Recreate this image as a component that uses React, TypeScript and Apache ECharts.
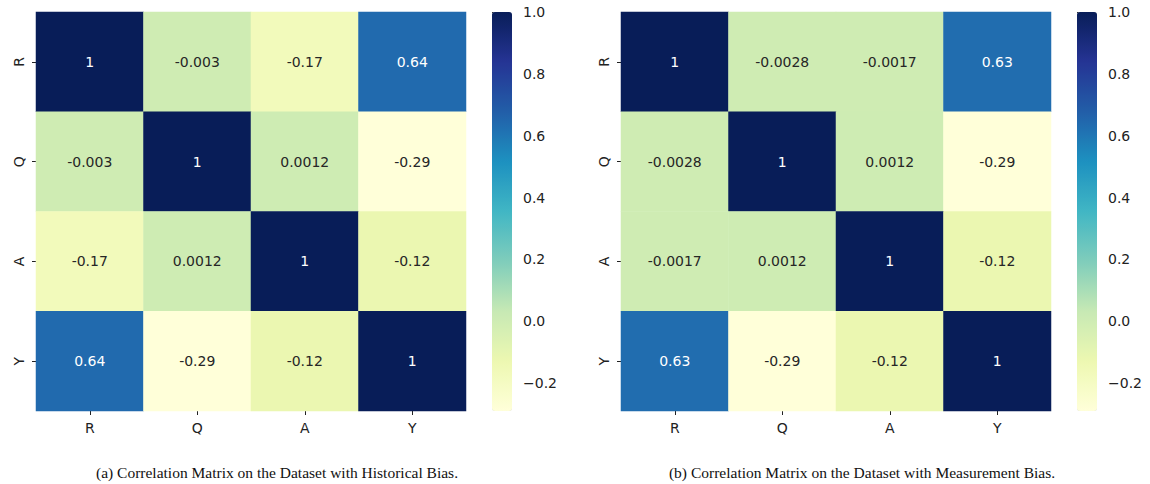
import React, { useEffect, useRef } from "react";
import * as echarts from "echarts";

const labels = ["R", "Q", "A", "Y"];
const histR = [1, -0.003, -0.17, 0.64];
const histQ = [-0.003, 1, 0.0012, -0.29];
const histA = [-0.17, 0.0012, 1, -0.12];
const histY = [0.64, -0.29, -0.12, 1];
const measR = [1, -0.0028, -0.0017, 0.63];
const measQ = [-0.0028, 1, 0.0012, -0.29];
const measA = [-0.0017, 0.0012, 1, -0.12];
const measY = [0.63, -0.29, -0.12, 1];
const colorbarTicks = [-0.2, 0, 0.2, 0.4, 0.6, 0.8, 1.0];
const vMin = -0.29;
const vMax = 1.0;
const captionA = "(a) Correlation Matrix on the Dataset with Historical Bias.";
const captionB = "(b) Correlation Matrix on the Dataset with Measurement Bias.";

const YlGnBu = ["#ffffd9", "#edf8b1", "#c7e9b4", "#7fcdbb", "#41b6c4", "#1d91c0", "#225ea8", "#253494", "#081d58"];
const FONT = "DejaVu Sans";
const TXT = "#222222";

function buildData(rows: number[][]) {
  const out: any[] = [];
  rows.forEach((row, yi) => {
    row.forEach((v, xi) => {
      const norm = (v - vMin) / (vMax - vMin);
      out.push({
        value: [xi, yi, v],
        label: { color: norm > 0.6 ? "#ffffff" : "#262626" },
      });
    });
  });
  return out;
}

function fmt(v: number) {
  return String(Number(v.toPrecision(2)));
}

export default function App() {
  const ref = useRef<HTMLDivElement>(null);
  useEffect(() => {
    const chart = echarts.init(ref.current!, undefined, { renderer: "svg" });
    const panels = [
      { gridLeft: 36, cbLeft: 492, rows: [histR, histQ, histA, histY], caption: captionA, cx: 277 },
      { gridLeft: 621, cbLeft: 1077, rows: [measR, measQ, measA, measY], caption: captionB, cx: 862 },
    ];
    const top = 12;
    const h = 399;
    const grids: any[] = [];
    const xAxes: any[] = [];
    const yAxes: any[] = [];
    const series: any[] = [];
    const visualMaps: any[] = [];
    const graphics: any[] = [];
    panels.forEach((p, i) => {
      grids.push({ left: p.gridLeft, top, width: 430, height: h });
      grids.push({ left: p.cbLeft, top, width: 20, height: h });
      xAxes.push({
        type: "category",
        gridIndex: 2 * i,
        data: labels,
        axisLine: { show: false },
        axisTick: { show: true, alignWithLabel: true, length: 4, lineStyle: { color: TXT } },
        axisLabel: { color: TXT, fontFamily: FONT, fontSize: 14, margin: 10 },
        splitLine: { show: false },
      });
      yAxes.push({
        type: "category",
        gridIndex: 2 * i,
        data: labels,
        inverse: true,
        axisLine: { show: false },
        axisTick: { show: true, alignWithLabel: true, length: 4, lineStyle: { color: TXT } },
        axisLabel: { color: TXT, fontFamily: FONT, fontSize: 14, rotate: 90, margin: 10 },
        splitLine: { show: false },
      });
      xAxes.push({
        type: "value",
        gridIndex: 2 * i + 1,
        min: 0,
        max: 1,
        show: false,
      });
      yAxes.push({
        type: "value",
        gridIndex: 2 * i + 1,
        position: "right",
        min: vMin,
        max: vMax,
        axisLine: { show: false },
        splitLine: { show: false },
        axisTick: { show: true, length: 4, lineStyle: { color: TXT }, customValues: colorbarTicks },
        axisLabel: {
          color: TXT,
          fontFamily: FONT,
          fontSize: 14,
          margin: 11,
          customValues: colorbarTicks,
          formatter: (v: number) => v.toFixed(1).replace("-", "\u2212"),
        },
      });
      series.push({
        type: "heatmap",
        xAxisIndex: 2 * i,
        yAxisIndex: 2 * i,
        data: buildData(p.rows),
        label: {
          show: true,
          fontFamily: FONT,
          fontSize: 14,
          formatter: (d: any) => fmt(d.value[2]),
        },
        itemStyle: { borderWidth: 0 },
        emphasis: { disabled: true },
      });
      visualMaps.push({
        type: "continuous",
        seriesIndex: i,
        min: vMin,
        max: vMax,
        dimension: 2,
        calculable: false,
        orient: "vertical",
        left: p.cbLeft,
        top,
        itemWidth: 20,
        itemHeight: h,
        padding: 0,
        text: ["", ""],
        showLabel: false,
        inRange: { color: YlGnBu },
        hoverLink: false,
      });
      graphics.push({
        type: "text",
        x: p.cx,
        y: 472,
        style: {
          text: p.caption,
          fill: "#111111",
          font: "15.5px 'Liberation Serif'",
          align: "center",
          verticalAlign: "middle",
        },
      });
    });
    chart.setOption({
      animation: false,
      grid: grids,
      xAxis: xAxes,
      yAxis: yAxes,
      visualMap: visualMaps,
      series,
      graphic: graphics,
    });
    return () => chart.dispose();
  }, []);
  return (
    <div
      ref={ref}
      style={{ position: "fixed", left: 0, top: 0, width: 1150, height: 484, background: "#ffffff" }}
    />
  );
}
